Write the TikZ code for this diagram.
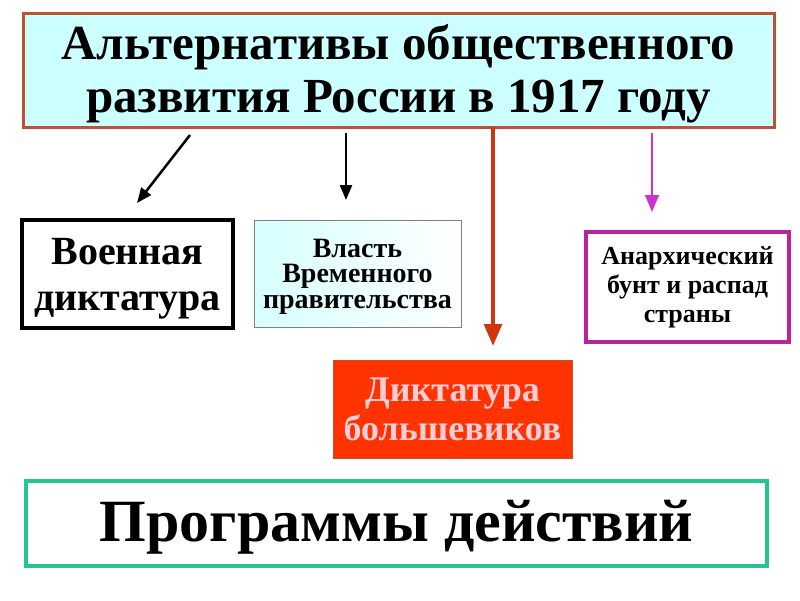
\documentclass[tikz,border=0pt]{standalone}
\usepackage{fontspec}
\setmainfont{Liberation Serif}
\usetikzlibrary{arrows.meta}

\definecolor{titlefill}{RGB}{204,255,255}
\definecolor{titleline}{RGB}{192,80,50}
\definecolor{redline}{RGB}{204,55,15}
\definecolor{violet}{RGB}{204,51,204}
\definecolor{violetbox}{RGB}{185,35,155}
\definecolor{bolshfill}{RGB}{255,51,0}
\definecolor{bolshtext}{RGB}{255,205,215}
\definecolor{progline}{RGB}{38,196,144}

\begin{document}
\begin{tikzpicture}[x=1pt,y=-1pt,
		box/.style={draw, align=center, inner sep=0pt},
		tip/.style={-{Triangle[length=#1, width=0.8*#1]}},
		tip/.default=15pt]
	\useasboundingbox (0,0) rectangle (800,600);
	% boxes
	\node[box, fill=titlefill, draw=titleline, line width=3pt, minimum width=751pt, minimum height=114pt, text depth=4pt,
		font=\fontsize{49}{53}\selectfont\bfseries] (title) at (398.5,70) {Альтернативы общественного\\развития России в 1917 году};
	\node[box, line width=3.5pt, minimum width=211pt, minimum height=108pt, text depth=0pt,
		font=\fontsize{40}{46}\selectfont\bfseries] (army) at (127.5,274) {Военная\\диктатура};
	\node[box, draw=gray, line width=1pt, left color=titlefill!80, right color=white, minimum width=207pt, minimum height=107pt, text depth=0pt,
		font=\fontsize{28}{25.5}\selectfont\bfseries] (gov) at (357.5,273.5) {Власть\\Временного\\правительства};
	\node[box, draw=violetbox, line width=4pt, minimum width=203pt, minimum height=110pt,
		font=\fontsize{26}{29}\selectfont\bfseries] (anarchy) at (687.5,287) {Анархический\\бунт и распад\\страны};
	\node[box, draw=titleline, fill=bolshfill, text=bolshtext, line width=1pt, minimum width=239pt, minimum height=98pt,
		font=\fontsize{36}{39}\selectfont\bfseries] (bolsh) at (452.5,409) {Диктатура\\большевиков};
	\node[box, draw=progline, line width=4pt, minimum width=741pt, minimum height=85pt, text depth=5pt,
		font=\fontsize{60}{64}\selectfont\bfseries] (prog) at (396.5,523.5) {Программы действий};
	% arrow ends
	\coordinate (a1) at (190,135);
	\coordinate (b1) at (137,203);
	\coordinate (a2) at (346,133);
	\coordinate (b2) at (346,200);
	\coordinate (a3) at (493,127);
	\coordinate (b3) at (493,346);
	\coordinate (a4) at (652,133);
	\coordinate (b4) at (652,212);
	\draw[tip, line width=2.5pt] (a1) -- (b1);
	\draw[tip, line width=2.5pt] (a2) -- (b2);
	\draw[tip=22pt, redline, line width=4pt] (a3) -- (b3);
	\draw[tip=17pt, violet, line width=2.5pt] (a4) -- (b4);
\end{tikzpicture}
\end{document}
